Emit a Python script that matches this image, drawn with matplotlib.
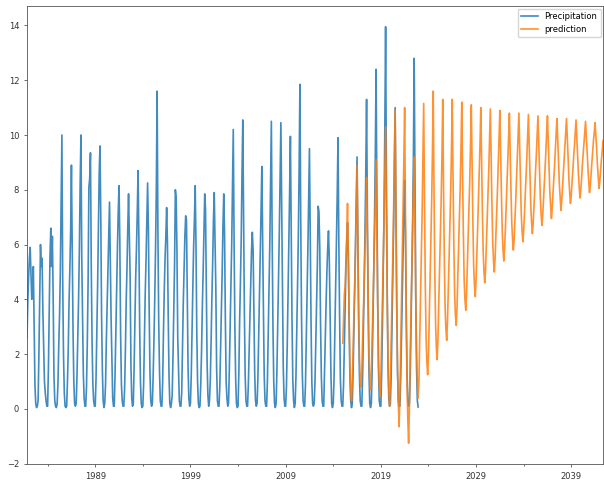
import pandas as pd
import matplotlib
matplotlib.use('Agg')
import matplotlib.pyplot as plt

# monthly precipitation, one row per year (Jan..Dec), starting Nov 1981
precip_start = '1981-11'
precip = [
    2.6, 3.9,
    4.8, 5.5, 5.9, 4.9, 4.0, 4.5, 5.2, 3.1, 0.9, 0.2, 0.05, 0.1,      # 1982
    0.3, 2.0, 4.0, 6.0, 5.2, 5.5, 3.6, 2.3, 1.0, 0.6, 0.3, 0.1,       # 1983
    0.1, 1.5, 3.7, 5.6, 6.6, 5.2, 6.3, 4.0, 1.2, 0.3, 0.1, 0.05,      # 1984
    0.2, 0.9, 2.3, 3.4, 5.0, 7.6, 10.0, 4.7, 2.0, 0.6, 0.1, 0.05,     # 1985
    0.1, 1.0, 2.2, 3.9, 5.1, 6.5, 8.9, 5.8, 2.9, 1.0, 0.2, 0.1,       # 1986
    0.2, 1.2, 2.6, 4.0, 5.8, 8.2, 10.0, 5.6, 3.4, 1.3, 0.4, 0.1,      # 1987
    0.1, 0.8, 2.4, 4.6, 8.1, 8.4, 9.35, 5.2, 2.5, 0.9, 0.3, 0.1,      # 1988
    0.1, 1.1, 2.8, 4.5, 6.5, 8.6, 9.6, 7.0, 3.4, 1.4, 0.3, 0.05,      # 1989
    0.2, 0.9, 2.5, 3.8, 5.2, 6.3, 7.55, 5.5, 3.3, 1.9, 0.4, 0.1,      # 1990
    0.1, 1.3, 2.9, 4.5, 5.9, 7.2, 8.15, 6.1, 2.7, 0.9, 0.3, 0.1,      # 1991
    0.1, 0.7, 2.1, 3.9, 5.1, 6.6, 7.85, 6.4, 4.8, 1.6, 0.4, 0.1,      # 1992
    0.2, 1.5, 3.2, 4.8, 5.9, 7.2, 8.7, 6.2, 3.0, 1.0, 0.2, 0.05,      # 1993
    0.1, 0.9, 2.6, 4.2, 5.4, 6.9, 8.25, 6.6, 3.6, 1.3, 0.3, 0.1,      # 1994
    0.2, 1.2, 2.5, 4.0, 5.8, 8.0, 11.6, 6.5, 3.2, 1.4, 0.3, 0.1,      # 1995
    0.1, 1.0, 2.8, 4.3, 5.5, 6.3, 7.35, 6.1, 3.4, 1.2, 0.2, 0.05,     # 1996
    0.2, 0.5, 1.9, 3.5, 5.3, 8.0, 7.7, 5.8, 2.6, 1.4, 0.3, 0.1,       # 1997
    0.1, 0.6, 2.2, 3.9, 5.1, 6.3, 7.05, 6.9, 4.2, 1.5, 0.4, 0.1,      # 1998
    0.2, 1.2, 2.9, 4.4, 5.9, 6.9, 8.15, 6.0, 2.8, 1.0, 0.2, 0.05,     # 1999
    0.1, 0.9, 2.1, 3.7, 5.0, 6.5, 7.85, 7.3, 4.6, 1.7, 0.5, 0.1,      # 2000
    0.3, 1.0, 2.4, 4.0, 5.3, 6.9, 7.9, 6.1, 4.4, 1.5, 0.3, 0.1,       # 2001
    0.1, 0.8, 2.2, 3.6, 5.0, 6.7, 7.85, 6.4, 3.3, 1.0, 0.4, 0.1,      # 2002
    0.2, 1.4, 2.9, 4.4, 6.0, 8.1, 10.2, 6.2, 3.0, 1.1, 0.2, 0.05,     # 2003
    0.1, 1.3, 3.2, 4.6, 6.2, 8.6, 10.55, 6.9, 3.5, 1.2, 0.3, 0.1,     # 2004
    0.1, 0.9, 2.1, 3.3, 4.6, 5.8, 6.45, 5.8, 3.4, 1.3, 0.3, 0.1,      # 2005
    0.2, 1.1, 2.6, 4.2, 5.6, 7.2, 8.85, 6.1, 3.6, 1.2, 0.3, 0.1,      # 2006
    0.1, 1.0, 2.7, 4.3, 6.0, 8.3, 10.5, 6.3, 3.0, 1.0, 0.2, 0.05,     # 2007
    0.2, 1.4, 3.0, 4.8, 6.4, 8.5, 10.45, 7.4, 4.2, 1.5, 0.4, 0.1,     # 2008
    0.1, 0.8, 2.3, 4.1, 5.9, 7.9, 9.95, 6.8, 3.3, 1.1, 0.3, 0.05,     # 2009
    0.2, 1.2, 2.8, 4.5, 6.3, 8.8, 11.85, 7.0, 3.4, 1.3, 0.3, 0.1,     # 2010
    0.1, 0.9, 2.5, 4.2, 5.8, 7.6, 9.5, 6.4, 3.2, 1.0, 0.2, 0.1,       # 2011
    0.2, 1.0, 2.4, 3.8, 5.3, 7.4, 7.2, 5.9, 3.1, 1.2, 0.3, 0.1,       # 2012
    0.1, 1.3, 2.6, 3.9, 5.0, 5.9, 6.5, 5.5, 3.6, 1.4, 0.2, 0.05,      # 2013
    0.2, 1.1, 2.7, 4.4, 6.1, 7.8, 9.9, 6.2, 3.4, 1.1, 0.3, 0.1,       # 2014
    0.1, 0.9, 2.4, 3.9, 5.2, 6.1, 6.8, 5.6, 3.2, 1.2, 0.3, 0.05,      # 2015
    0.2, 1.3, 2.8, 4.4, 6.0, 7.7, 9.2, 6.3, 3.3, 1.2, 0.3, 0.1,       # 2016
    0.1, 1.2, 2.8, 4.6, 6.4, 8.6, 11.3, 7.2, 3.8, 1.4, 0.2, 0.05,     # 2017
    0.2, 1.4, 3.1, 4.9, 6.8, 9.2, 12.4, 7.8, 4.1, 1.5, 0.3, 0.1,      # 2018
    0.1, 1.3, 3.0, 5.0, 7.1, 10.2, 13.95, 8.4, 4.4, 1.6, 0.4, 0.1,    # 2019
    0.2, 1.2, 2.9, 4.6, 6.5, 8.7, 11.0, 7.3, 3.9, 1.4, 0.3, 0.1,      # 2020
    0.1, 1.1, 2.6, 4.2, 5.8, 7.2, 8.35, 6.4, 3.5, 1.3, 0.3, 0.1,      # 2021
    0.2, 1.2, 3.0, 4.8, 6.6, 9.1, 12.8, 8.2, 4.2, 1.5, 0.3, 0.07,     # 2022
]

# model output, one row per year (Jan..Dec), starting Jan 2015
pred_start = '2015-01'
prediction = [
    2.4, 3.3, 4.2, 4.5, 5.4, 6.3, 7.5, 5.6, 3.4, 1.6, 0.7, 0.3,       # 2015
    1.0, 2.1, 3.4, 4.3, 5.6, 7.2, 8.9, 6.0, 3.6, 1.9, 1.0, 0.8,       # 2016
    1.4, 2.6, 3.6, 4.6, 5.8, 7.0, 8.45, 6.3, 3.9, 2.0, 1.1, 0.7,      # 2017
    1.3, 2.5, 3.8, 5.0, 6.2, 7.6, 9.1, 6.4, 3.8, 1.8, 0.9, 0.45,      # 2018
    1.2, 2.6, 4.1, 5.4, 6.9, 8.5, 10.3, 7.0, 4.0, 1.9, 0.7, 0.1,      # 2019
    0.9, 2.4, 4.0, 5.5, 7.1, 8.9, 10.9, 7.2, 3.8, 1.5, 0.2, -0.65,    # 2020
    0.5, 2.2, 3.9, 5.6, 7.3, 9.1, 11.0, 7.0, 3.4, 0.9, -0.4, -1.25,   # 2021
    0.1, 1.9, 3.6, 5.1, 6.6, 8.0, 9.2, 6.8, 4.0, 2.2, 1.0, 0.4,       # 2022
    1.0, 2.6, 4.1, 5.6, 7.1, 9.0, 11.15, 7.6, 4.6, 2.6, 1.7, 1.25,    # 2023
    2.0, 3.3, 4.8, 6.1, 7.5, 9.3, 11.6, 8.0, 5.0, 3.1, 2.2, 1.8,      # 2024
    2.6, 3.8, 5.1, 6.4, 7.6, 9.2, 11.3, 8.1, 5.5, 3.7, 2.9, 2.5,      # 2025
    3.2, 4.3, 5.5, 6.7, 7.9, 9.4, 11.3, 8.4, 6.0, 4.2, 3.4, 3.05,     # 2026
    3.7, 4.8, 5.9, 7.0, 8.1, 9.5, 11.2, 8.6, 6.4, 4.7, 4.0, 3.6,      # 2027
    4.2, 5.2, 6.2, 7.3, 8.3, 9.6, 11.1, 8.8, 6.8, 5.2, 4.5, 4.1,      # 2028
    4.7, 5.6, 6.6, 7.6, 8.5, 9.7, 11.0, 9.0, 7.2, 5.7, 5.0, 4.6,      # 2029
    5.1, 6.0, 6.9, 7.8, 8.7, 9.8, 10.95, 9.2, 7.5, 6.1, 5.4, 5.0,     # 2030
    5.5, 6.3, 7.2, 8.0, 8.9, 9.9, 10.9, 9.3, 7.8, 6.5, 5.8, 5.4,      # 2031
    5.9, 6.6, 7.4, 8.2, 9.0, 9.9, 10.8, 9.4, 8.0, 6.8, 6.2, 5.8,      # 2032
    6.2, 6.9, 7.6, 8.4, 9.1, 10.0, 10.8, 9.5, 8.3, 7.1, 6.5, 6.1,     # 2033
    6.5, 7.1, 7.8, 8.5, 9.2, 10.0, 10.75, 9.6, 8.5, 7.4, 6.8, 6.4,    # 2034
    6.8, 7.4, 8.0, 8.7, 9.3, 10.0, 10.7, 9.7, 8.7, 7.7, 7.1, 6.7,     # 2035
    7.05, 7.6, 8.2, 8.8, 9.4, 10.1, 10.7, 9.8, 8.9, 7.9, 7.4, 6.95,   # 2036
    7.35, 7.9, 8.4, 8.9, 9.5, 10.1, 10.6, 9.8, 9.0, 8.2, 7.7, 7.25,   # 2037
    7.6, 8.1, 8.6, 9.1, 9.6, 10.1, 10.6, 9.9, 9.2, 8.4, 7.9, 7.5,     # 2038
    7.8, 8.3, 8.7, 9.2, 9.6, 10.1, 10.55, 9.9, 9.3, 8.6, 8.1, 7.7,    # 2039
    8.0, 8.4, 8.9, 9.3, 9.7, 10.1, 10.5, 9.9, 9.4, 8.8, 8.3, 7.9,     # 2040
    8.15, 8.6, 9.0, 9.4, 9.8, 10.1, 10.45, 10.0, 9.5, 8.9, 8.5, 8.05, # 2041
    8.3, 8.7, 9.1, 9.4, 9.8,                                          # 2042
]

obs = pd.Series(precip, index=pd.period_range(precip_start, periods=len(precip), freq='M'),
                name='Precipitation')
pred = pd.Series(prediction, index=pd.period_range(pred_start, periods=len(prediction), freq='M'),
                 name='prediction')

fig = plt.figure(figsize=(6.04, 4.83), dpi=100)
ax = fig.add_axes([27 / 604, 19 / 483, 576 / 604, 458 / 483])

obs.plot(ax=ax, lw=1.2, color='tab:blue', alpha=0.85)
pred.plot(ax=ax, lw=1.2, color='tab:orange', alpha=0.85)

ax.set_xlabel('')
ax.tick_params(which='both', labelsize=6, width=0.5, colors='#333333')
ax.tick_params(which='major', length=2.1)
ax.tick_params(which='minor', length=1.2)
for s in ax.spines.values():
    s.set_linewidth(0.6)
    s.set_color('#555555')
ax.legend(fontsize=6, loc='upper right', borderaxespad=0.3, framealpha=0.8)

fig.savefig('out.png', dpi=100)
